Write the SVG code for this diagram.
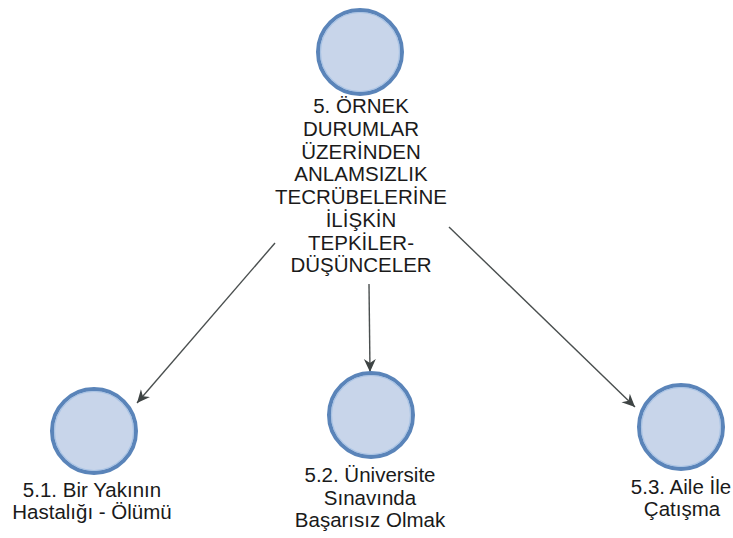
<svg xmlns="http://www.w3.org/2000/svg" width="733" height="538" viewBox="0 0 733 538">
<defs>
<style>
.node-c{fill:#c8d5ea;stroke:#5a84b9;stroke-width:4}
.inner{fill:none;stroke:#a9c3e4;stroke-width:1.2}
.lbl{font-family:"Liberation Sans",Arial,sans-serif;font-size:20.5px;fill:#1a1a1a;text-anchor:middle}
.edge{stroke:#4a4f4f;stroke-width:1.4;fill:none;marker-end:url(#ah)}
</style>
<marker id="ah" markerUnits="userSpaceOnUse" markerWidth="16" markerHeight="14" refX="13" refY="6" orient="auto" viewBox="0 0 16 12">
<path d="M0,0 L13,6 L0,12 L4,6 Z" fill="#3e4444"/>
</marker>
</defs>
<rect width="733" height="538" fill="#ffffff"/>
<g id="connectors">
<line class="edge" x1="275" y1="243" x2="137" y2="403"/>
<line class="edge" x1="369" y1="284" x2="370" y2="372"/>
<line class="edge" x1="449" y1="227" x2="635" y2="407"/>
</g>
<g id="n5">
<circle class="node-c" cx="360" cy="52" r="42"/>
<circle class="inner" cx="360" cy="52" r="39.5"/>
<text class="lbl" x="361" y="113">5. ÖRNEK</text>
<text class="lbl" x="361" y="136">DURUMLAR</text>
<text class="lbl" x="361" y="159">ÜZERİNDEN</text>
<text class="lbl" x="361" y="181">ANLAMSIZLIK</text>
<text class="lbl" x="361" y="204">TECRÜBELERİNE</text>
<text class="lbl" x="361" y="227">İLİŞKİN</text>
<text class="lbl" x="361" y="250">TEPKİLER-</text>
<text class="lbl" x="361" y="272">DÜŞÜNCELER</text>
</g>
<g id="n51">
<circle class="node-c" cx="94" cy="431" r="42"/>
<circle class="inner" cx="94" cy="431" r="39.5"/>
<text class="lbl" x="92" y="497">5.1. Bir Yakının</text>
<text class="lbl" x="92" y="519">Hastalığı - Ölümü</text>
</g>
<g id="n52">
<circle class="node-c" cx="371" cy="415" r="42"/>
<circle class="inner" cx="371" cy="415" r="39.5"/>
<text class="lbl" x="370" y="482">5.2. Üniversite</text>
<text class="lbl" x="370" y="505">Sınavında</text>
<text class="lbl" x="370" y="527">Başarısız Olmak</text>
</g>
<g id="n53">
<circle class="node-c" cx="681" cy="427" r="42"/>
<circle class="inner" cx="681" cy="427" r="39.5"/>
<text class="lbl" x="681" y="494">5.3. Aile İle</text>
<text class="lbl" x="682" y="516">Çatışma</text>
</g>
</svg>
